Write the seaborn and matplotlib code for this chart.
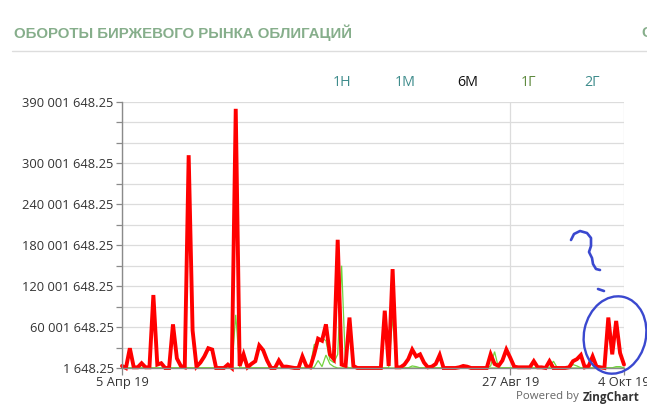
import numpy as np
import pandas as pd
import matplotlib
matplotlib.use("Agg")
import matplotlib.pyplot as plt
import seaborn as sns
from matplotlib.patches import Ellipse
from matplotlib.lines import Line2D

# ---------------- data (values in millions of roubles) ----------------
red_total = [3, 0, 29, 1, 1, 7, 1, 1, 107, 5,
             7, 0, 0, 64, 14, 3, 1, 312, 55, 2,
             8, 17, 29, 27, 0, 0, 0, 5, 0, 380,
             3, 20, 1, 6, 10, 33, 26, 11, 0, 0,
             11, 2, 2, 1, 0, 0, 17, 3, 1, 20,
             43, 40, 64, 20, 13, 188, 5, 3, 74, 3,
             0, 0, 0, 0, 0, 0, 0, 84, 3, 145,
             1, 1, 5, 13, 27, 17, 20, 8, 1, 2,
             6, 19, 0, 0, 0, 0, 1, 3, 2, 0,
             0, 0, 0, 0, 20, 6, 3, 11, 27, 15,
             2, 1, 1, 1, 1, 10, 1, 1, 0, 10,
             0, 0, 0, 0, 1, 10, 13, 19, 1, 3,
             17, 2, 1, 0, 74, 20, 69, 22, 5]

green_a = [0.3, 0.3, 0.3, 0.3, 0.3, 0.3, 0.3, 0.3, 0.3, 0.3,
           0.3, 0.3, 0.3, 0.3, 0.3, 1, 1, 0.5, 0.3, 0.3,
           0.3, 0.3, 0.3, 0.3, 0.3, 0.3, 0.3, 0.3, 0.3, 78,
           0.3, 0.3, 0.3, 0.3, 0.3, 0.3, 0.3, 0.3, 0.3, 0.3,
           0.3, 0.3, 0.3, 0.3, 0.3, 0.3, 0.3, 0.3, 3, 34,
           38, 44, 40, 12, 8, 20, 150, 2, 0.3, 0.3,
           0.3, 0.3, 0.3, 0.3, 0.3, 0.3, 0.3, 0.3, 0.3, 75,
           0.3, 0.3, 0.3, 0.3, 3, 2, 0.3, 0.3, 0.3, 0.3,
           0.3, 0.3, 0.3, 0.3, 0.3, 0.3, 0.3, 0.3, 0.3, 0.3,
           0.3, 0.3, 0.3, 0.3, 3, 24, 0.3, 0.3, 0.3, 0.3,
           0.3, 0.3, 0.3, 0.3, 0.3, 0.3, 0.3, 0.3, 0.3, 0.3,
           10, 0.3, 0.3, 0.3, 0.3, 5, 3, 0.3, 0.3, 0.3,
           0.3, 0.3, 0.3, 0.3, 0.3, 0.3, 2, 2, 0.3]

green_b = [0] * 49 + [1, 11, 2, 19, 6, 2] + [0] * 74

x_tick_labels = ["5 Апр 19", "27 Авг 19", "4 Окт 19"]
x_tick_index = [0, 99, 128]

y_base = 1648.25
y_step = 30_000_000
y_labeled_steps = [0, 2, 4, 6, 8, 10, 13]

buttons = ["1Н", "1М", "6М", "1Г", "2Г"]
title = "ОБОРОТЫ БИРЖЕВОГО РЫНКА ОБЛИГАЦИЙ"

# ---------------- figure ----------------
sns.set_theme(style="white")
plt.rcParams["font.family"] = ["Open Sans", "DejaVu Sans"]

W, H = 647, 412
fig = plt.figure(figsize=(W / 100, H / 100), dpi=100)
fig.patch.set_facecolor("white")

def fx(px):
    return px / W

def fy(py):
    return 1 - py / H

ax = fig.add_axes([fx(122), fy(368), fx(624) - fx(122), fy(102) - fy(368)])
ax.set_facecolor("white")

n = len(red_total)
df = pd.DataFrame({
    "idx": np.arange(n),
    "red": np.array(red_total, float) * 1e6,
    "ga": np.array(green_a, float) * 1e6,
    "gb": np.array(green_b, float) * 1e6,
})

sns.lineplot(data=df, x="idx", y="gb", ax=ax, color="#72d33e", linewidth=0.9,
             estimator=None, sort=False)
sns.lineplot(data=df, x="idx", y="ga", ax=ax, color="#72d33e", linewidth=0.9,
             estimator=None, sort=False)
sns.lineplot(data=df, x="idx", y="red", ax=ax, color="#ff0000", linewidth=2.8,
             estimator=None, sort=False)
for ln in ax.lines:
    ln.set_clip_on(False)
    ln.set_solid_joinstyle("miter")

ymax = y_base + 13 * y_step
ax.set_ylim(y_base, ymax)
ax.set_xlim(0, n - 1)

yticks = [y_base + k * y_step for k in range(14)]
ylabels = []
for k in range(14):
    if k in y_labeled_steps:
        ylabels.append(f"{y_base + k * y_step:,.2f}".replace(",", " "))
    else:
        ylabels.append("")
ax.set_yticks(yticks)
ax.set_yticklabels(ylabels)
ax.set_xticks(x_tick_index)
ax.set_xticklabels(x_tick_labels)

ax.grid(True, axis="y", color="#dcdcdc", linewidth=0.9)
ax.grid(True, axis="x", color="#dcdcdc", linewidth=0.9)
ax.set_axisbelow(True)
for s in ["top", "right"]:
    ax.spines[s].set_visible(False)
for s in ["left", "bottom"]:
    ax.spines[s].set_color("#8a8a8a")
    ax.spines[s].set_linewidth(1.0)
ax.tick_params(axis="y", length=4, width=0.9, color="#8a8a8a", pad=2,
               labelsize=9.3, labelcolor="#333333", left=True)
ax.tick_params(axis="x", length=5, width=0.9, color="#8a8a8a", pad=1,
               labelsize=9.3, labelcolor="#333333", bottom=True)
for lbl in ax.get_xticklabels():
    lbl.set_clip_on(False)
ax.set_xlabel("")
ax.set_ylabel("")

# title and header
fig.text(fx(14), fy(33), title, family=["Liberation Sans", "DejaVu Sans"],
         fontweight="bold", fontsize=10.8, color="#86ae8b", va="center", ha="left")
fig.text(fx(641), fy(33), "С", family=["Liberation Sans", "DejaVu Sans"],
         fontweight="bold", fontsize=10.8, color="#86ae8b", va="center", ha="left")
fig.add_artist(Line2D([fx(12), 1.0], [fy(51), fy(51)], color="#dddddd",
                      linewidth=1.0, transform=fig.transFigure))

btn_x = [342, 405, 468, 528, 592]
btn_col = ["#3f8c8c", "#3f8c8c", "#111111", "#5f8a3f", "#3f8c8c"]
for b, bx, bc in zip(buttons, btn_x, btn_col):
    fig.text(fx(bx), fy(82), b, fontsize=10.3, color=bc, ha="center", va="center")

# footer
fig.text(fx(582), fy(397), "Powered by ", fontsize=8.2, color="#666666",
         ha="right", va="center")
fig.text(fx(583), fy(397), "ZingChart", fontsize=8.4, color="#333333",
         fontweight="bold", ha="left", va="center")

# hand-drawn blue annotation
blue = "#3a48cf"
ell = Ellipse((6.15, (H - 335) / 100), 0.62, 0.78, angle=-12, fill=False,
              edgecolor=blue, linewidth=1.7, transform=fig.dpi_scale_trans)
fig.add_artist(ell)
qx = [571, 574, 580, 587, 591, 591, 589, 592, 593, 596, 600]
qy = [240, 234, 231, 233, 238, 246, 252, 258, 264, 269, 270]
fig.add_artist(Line2D([fx(v) for v in qx], [fy(v) for v in qy], color=blue,
                      linewidth=1.9, transform=fig.transFigure,
                      solid_capstyle="round"))
fig.add_artist(Line2D([fx(598), fx(604)], [fy(289), fy(291)], color=blue,
                      linewidth=1.9, transform=fig.transFigure,
                      solid_capstyle="round"))

fig.savefig("out.png", dpi=100, facecolor="white")
